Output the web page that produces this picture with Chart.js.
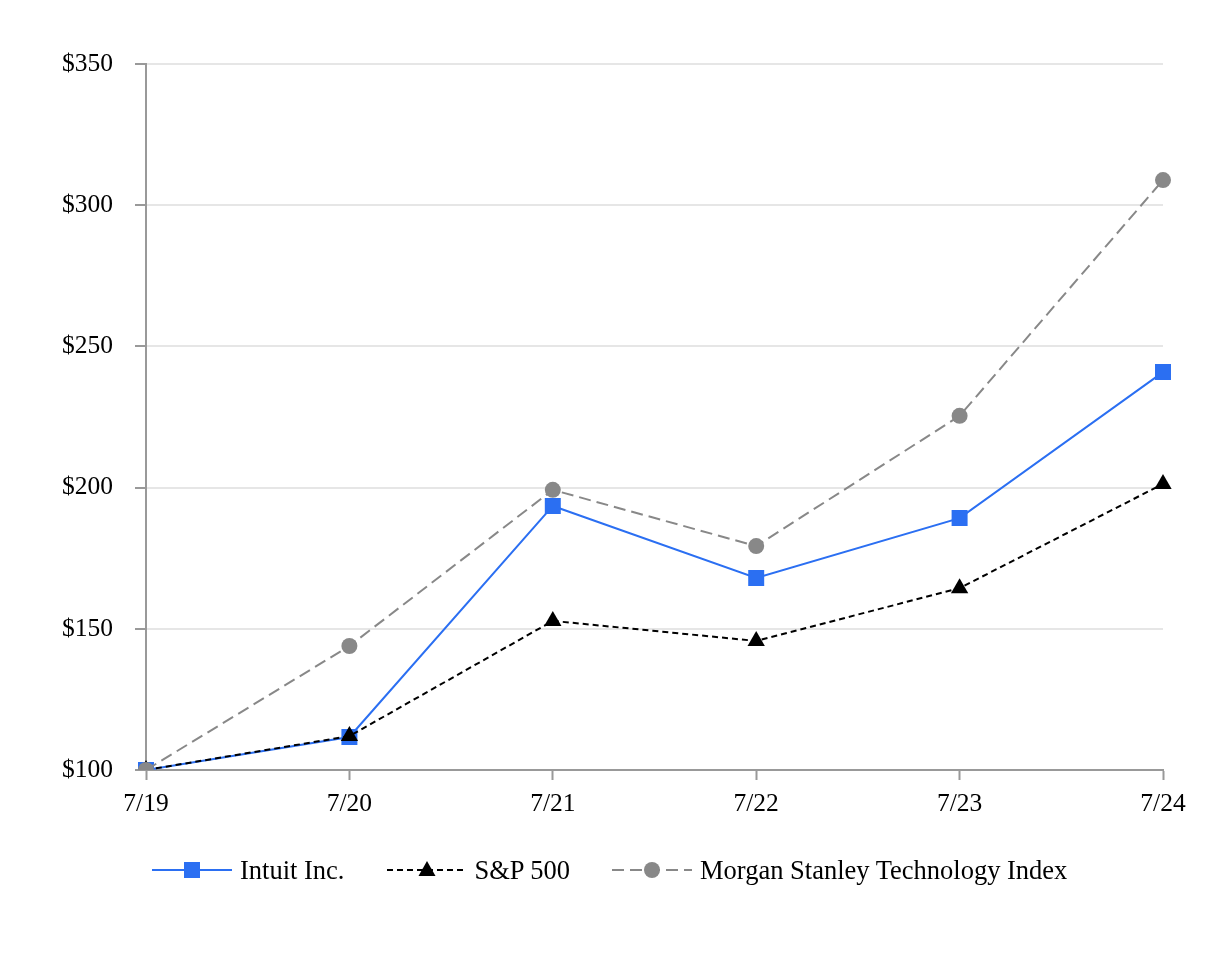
<!DOCTYPE html>
<html>
<head>
<meta charset="utf-8">
<script src="https://cdn.jsdelivr.net/npm/chart.js@4/dist/chart.umd.min.js"></script>
<style>
  html, body { margin: 0; padding: 0; background: #fff; }
  #wrap { position: relative; width: 1226px; height: 960px; }
  #c { position: absolute; left: 0; top: 0; }
  #legend { position: absolute; left: 152px; top: 852px; height: 36px; display: flex; align-items: center;
    font-family: "Liberation Serif", "Times New Roman", serif; font-size: 26.5px; color: #000; white-space: nowrap; }
  .item { display: flex; align-items: center; margin-right: 42px; }
  .item svg { margin-right: 8px; }
</style>
</head>
<body>
<div id="wrap">
  <canvas id="c" width="1226" height="960"></canvas>
  <div id="legend"></div>
</div>
<script>
const categories = ["7/19", "7/20", "7/21", "7/22", "7/23", "7/24"];
const intuit = [100, 111.7, 193.5, 168, 189.2, 240.9];
const sp500 = [100, 112, 152.8, 145.7, 164.4, 201.3];
const msTech = [100, 143.9, 199.2, 179.3, 225.4, 308.9];
const seriesNames = ["Intuit Inc.", "S&P 500", "Morgan Stanley Technology Index"];
const yMin = 100, yMax = 350, yStep = 50;

const FONT = { family: '"Liberation Serif", "Times New Roman", serif', size: 25.5 };
const BLUE = '#2b6ff2', GREY = '#888888', AXIS = '#999999', GRID = '#e6e6e6';

const ctx = document.getElementById('c').getContext('2d');
new Chart(ctx, {
  type: 'line',
  data: {
    labels: categories,
    datasets: [
      { label: seriesNames[2], data: msTech, borderColor: GREY, backgroundColor: GREY, borderWidth: 2,
        borderDash: [12, 6], pointStyle: 'circle', pointRadius: 8, pointBorderWidth: 0, tension: 0 },
      { label: seriesNames[1], data: sp500, borderColor: '#000', backgroundColor: '#000', borderWidth: 2,
        borderDash: [6, 4], pointStyle: 'triangle', pointRadius: 10, pointBorderWidth: 0, tension: 0 },
      { label: seriesNames[0], data: intuit, borderColor: BLUE, backgroundColor: BLUE, borderWidth: 2,
        pointStyle: 'rect', pointRadius: 11.3, pointBorderWidth: 0, tension: 0 }
    ]
  },
  options: {
    responsive: false,
    animation: false,
    layout: { padding: { left: 0, top: 64, right: 63, bottom: 130 } },
    plugins: { legend: { display: false }, tooltip: { enabled: false } },
    scales: {
      x: {
        offset: false,
        grid: { drawOnChartArea: false, drawTicks: true, tickLength: 10, tickColor: AXIS, tickWidth: 2 },
        border: { color: AXIS, width: 2 },
        ticks: { font: FONT, color: '#000', padding: 9, maxRotation: 0 },
        afterFit: (s) => { s.height = 60; }
      },
      y: {
        min: yMin, max: yMax,
        grid: { color: GRID, lineWidth: 2, drawTicks: true, tickLength: 11, tickColor: AXIS, tickWidth: 2 },
        border: { color: AXIS, width: 2 },
        ticks: { stepSize: yStep, font: FONT, color: '#000', padding: 22,
          callback: (v) => '$' + v },
        afterFit: (s) => { s.width = 146; }
      }
    }
  }
});

// HTML legend
const legendDefs = [
  { name: seriesNames[0], color: BLUE, dash: '', marker: 'rect' },
  { name: seriesNames[1], color: '#000', dash: '6,4', marker: 'tri' },
  { name: seriesNames[2], color: GREY, dash: '12,6', marker: 'circle' }
];
const lg = document.getElementById('legend');
legendDefs.forEach(d => {
  const it = document.createElement('div'); it.className = 'item';
  let m = '';
  if (d.marker === 'rect') m = `<rect x="32" y="10" width="16" height="16" fill="${d.color}"/>`;
  if (d.marker === 'tri') m = `<polygon points="40,9 48.5,24 31.5,24" fill="${d.color}"/>`;
  if (d.marker === 'circle') m = `<circle cx="40" cy="18" r="8" fill="${d.color}"/>`;
  it.innerHTML = `<svg width="80" height="36"><line x1="0" y1="18" x2="80" y2="18" stroke="${d.color}" stroke-width="2" ${d.dash ? `stroke-dasharray="${d.dash}"` : ''}/>${m}</svg><span>${d.name}</span>`;
  lg.appendChild(it);
});
</script>
</body>
</html>
